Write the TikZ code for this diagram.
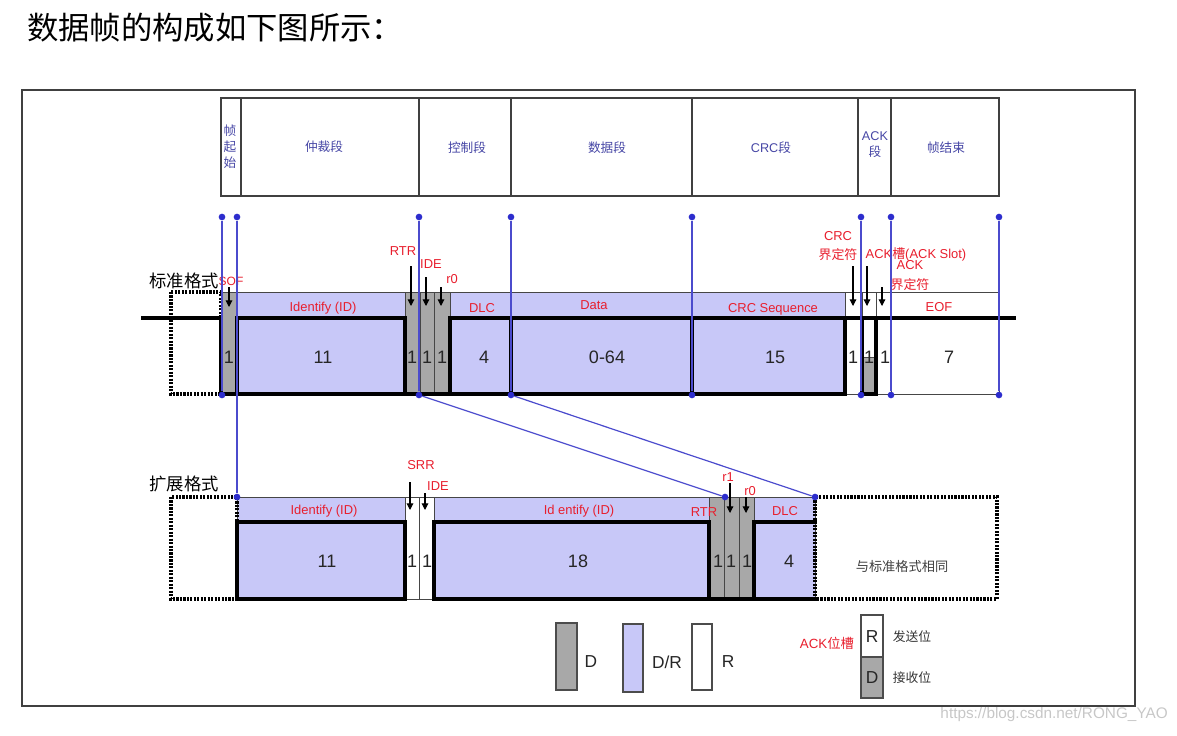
\documentclass[tikz,border=0pt]{standalone}
\usepackage{fontspec}
\setmainfont{Liberation Sans}
\newfontfamily\cjk{Noto Sans CJK SC}
\usetikzlibrary{fit,arrows.meta}
\definecolor{bfill}{RGB}{200,200,248}
\definecolor{gfill}{RGB}{168,168,168}
\definecolor{bline}{RGB}{75,75,205}
\definecolor{bdotc}{RGB}{45,45,205}
\definecolor{rtxt}{RGB}{232,30,45}
\definecolor{htxt}{RGB}{70,70,165}
\definecolor{edge}{RGB}{70,70,70}
\begin{document}
\begin{tikzpicture}[x=0.75pt,y=-0.75pt,
  cell/.style={draw=edge, line width=0.6pt, inner sep=0pt},
  hdr/.style={draw=black!75, line width=0.9pt, inner sep=0pt},
  htx/.style={font=\fontsize{9.5}{12}\selectfont, text=htxt, align=center, inner sep=0pt},
  dfill/.style={cell, fill=gfill},
  drfill/.style={cell, fill=bfill},
  rfill/.style={cell, fill=white},
  wave/.style={line width=2.4pt, line cap=rect, draw=black},
  dotbox/.style={draw=black, line width=2.6pt, dash pattern=on 1.6pt off 1pt},
  bl/.style={draw=bline, line width=0.9pt},
  bdot/.style={circle, fill=bdotc, inner sep=0pt, minimum size=5pt},
  lab/.style={font=\fontsize{9.7}{11}\selectfont, text=rtxt, inner sep=0pt, align=center},
  num/.style={font=\fontsize{13.5}{14}\selectfont, text=black!85, inner sep=0pt},
  arr/.style={-{Triangle[length=5pt,width=5pt]}, line width=0.8pt, draw=black},
  lgbox/.style={draw=black!70, line width=0.9pt, inner sep=0pt},
  cjkt/.style={font=\cjk\fontsize{9.6}{11}\selectfont, text=black!80, inner sep=0pt}
]
\useasboundingbox (0,0) rectangle (1177,735);

% title and watermark
\node[anchor=west, inner sep=0pt, font=\cjk\fontsize{23.5}{24}\selectfont] (title) at (27,28) {数据帧的构成如下图所示：};
\node[anchor=east, inner sep=0pt, text=black!22, font=\fontsize{11.5}{12}\selectfont] (wm) at (1168,715) {https://blog.csdn.net/RONG\_YAO};

% outer frame
\node[draw=black!75, line width=1pt, inner sep=0pt, fit={(22,90)(1135,706)}] (frame) {};

% header row
\node[hdr, fit={(221,98)(241,196)}] (hSOF) {};
\node[hdr, fit={(241,98)(419,196)}] (hArb) {};
\node[hdr, fit={(419,98)(511,196)}] (hCtl) {};
\node[hdr, fit={(511,98)(692,196)}] (hDat) {};
\node[hdr, fit={(692,98)(858,196)}] (hCRC) {};
\node[hdr, fit={(858,98)(891,196)}] (hACK) {};
\node[hdr, fit={(891,98)(999,196)}] (hEOF) {};
\node[htx, font=\cjk\fontsize{9.5}{12}\selectfont] (xSOF) at (230,147) {帧\\起\\始};
\node[htx] (xArb) at (324,147) {\cjk 仲裁段};
\node[htx] (xCtl) at (467,148) {\cjk 控制段};
\node[htx] (xDat) at (607,148) {\cjk 数据段};
\node[htx] (xCRC) at (771,148) {CRC{\cjk 段}};
\node[htx] (xACK) at (875,145) {ACK\\{\cjk 段}};
\node[htx] (xEOF) at (946,148) {\cjk 帧结束};

% ---------- standard format ----------
\node[anchor=east, inner sep=0pt, font=\cjk\fontsize{13}{14}\selectfont] (stdname) at (219,281) {标准格式};
\node[dfill, fit={(221,292)(237,394)}] (sSOF) {};
\node[drfill, fit={(237,292)(405,394)}] (sId) {};
\node[dfill, fit={(405,292)(420,394)}] (sRTR) {};
\node[dfill, fit={(420,292)(434,394)}] (sIDE) {};
\node[dfill, fit={(434,292)(450,394)}] (sR0) {};
\node[drfill, fit={(450,292)(511,394)}] (sDLC) {};
\node[drfill, fit={(511,292)(692,394)}] (sData) {};
\node[drfill, fit={(692,292)(845,394)}] (sCRC) {};
\node[rfill, fit={(845,292)(862,394)}] (sCD) {};
\node[rfill, fit={(862,292)(876,394)}] (sAS) {};
\node[dfill, fit={(862,357)(876,394)}] (sASd) {};
\node[rfill, fit={(876,292)(891,394)}] (sAD) {};
\node[rfill, fit={(891,292)(999,394)}] (sEOF) {};
\draw[dotbox] (171,292) rectangle (221,394);

\draw[wave] (143,318) -- (221,318) -- (221,394) -- (845,394);
\draw[wave] (237,394) -- (237,318) -- (405,318) -- (405,394);
\draw[wave] (450,394) -- (450,318) -- (1014,318);
\draw[wave] (511,318) -- (511,394);
\draw[wave] (692,318) -- (692,394);
\draw[wave] (845,318) -- (845,394);
\draw[wave] (862,318) -- (862,394) -- (876,394) -- (876,318);

\node[num] (nSOF) at (229,357) {1};
\node[num] (nId) at (323,357) {11};
\node[num] (nRTR) at (412,357) {1};
\node[num] (nIDE) at (427,357) {1};
\node[num] (nR0) at (442,357) {1};
\node[num] (nDLC) at (484,357) {4};
\node[num] (nData) at (607,357) {0-64};
\node[num] (nCRC) at (775,357) {15};
\node[num] (nCD) at (853,357) {1};
\node[num] (nAS) at (869,357) {1};
\node[num] (nAD) at (885,357) {1};
\node[num] (nEOF) at (949,357) {7};

\node[lab] (lId) at (323,308) {Identify (ID)};
\node[lab] (lDLC) at (482,308) {DLC};
\node[lab] (lData) at (594,305) {Data};
\node[lab] (lCRC) at (773,309) {CRC Sequence};
\node[lab] (lEOF) at (939,307) {EOF};

\node[lab, font=\fontsize{9}{10}\selectfont] (tSOF) at (231,281) {SOF};
\node[lab] (tRTR) at (403,251) {RTR};
\node[lab] (tIDE) at (431,264) {IDE};
\node[lab] (tR0) at (452,279) {r0};
\node[lab, font=\fontsize{9.7}{14}\selectfont] (tCD) at (838,246) {CRC\\{\cjk 界定符}};
\node[lab] (tAS) at (916,254) {ACK{\cjk 槽}(ACK Slot)};
\node[lab, font=\fontsize{9.7}{15}\selectfont] (tAD) at (910,276) {ACK\\{\cjk 界定符}};

\coordinate (aSOF1) at (229,287); \coordinate (aSOF2) at (229,307);
\coordinate (aRTR1) at (411,266); \coordinate (aRTR2) at (411,306);
\coordinate (aIDE1) at (426,277); \coordinate (aIDE2) at (426,306);
\coordinate (aR01) at (441,287);  \coordinate (aR02) at (441,306);
\coordinate (aCD1) at (853,266);  \coordinate (aCD2) at (853,306);
\coordinate (aAS1) at (867,266);  \coordinate (aAS2) at (867,306);
\coordinate (aAD1) at (882,287);  \coordinate (aAD2) at (882,306);
\draw[arr] (aSOF1) -- (aSOF2);
\draw[arr] (aRTR1) -- (aRTR2);
\draw[arr] (aIDE1) -- (aIDE2);
\draw[arr] (aR01) -- (aR02);
\draw[arr] (aCD1) -- (aCD2);
\draw[arr] (aAS1) -- (aAS2);
\draw[arr] (aAD1) -- (aAD2);

% ---------- extended format ----------
\node[anchor=east, inner sep=0pt, font=\cjk\fontsize{13}{14}\selectfont] (extname) at (219,484) {扩展格式};
\node[drfill, fit={(237,497)(405,599)}] (eId) {};
\node[rfill, fit={(405,497)(419,599)}] (eSRR) {};
\node[rfill, fit={(419,497)(434,599)}] (eIDE) {};
\node[drfill, fit={(434,497)(709,599)}] (eIdx) {};
\node[dfill, fit={(709,497)(724,599)}] (eRTR) {};
\node[dfill, fit={(724,497)(739,599)}] (eR1) {};
\node[dfill, fit={(739,497)(754,599)}] (eR0) {};
\node[drfill, fit={(754,497)(815,599)}] (eDLC) {};
\draw[dotbox] (171,497) rectangle (237,599);
\draw[dotbox] (815,497) rectangle (997,599);

\draw[wave] (237,599) -- (237,522) -- (405,522) -- (405,599) -- cycle;
\draw[wave] (434,599) -- (434,522) -- (709,522) -- (709,599);
\draw[wave] (434,599) -- (815,599);
\draw[wave] (754,599) -- (754,522) -- (815,522);

\node[num] (enId) at (327,561) {11};
\node[num] (enSRR) at (412,561) {1};
\node[num] (enIDE) at (427,561) {1};
\node[num] (enIdx) at (578,561) {18};
\node[num] (enRTR) at (718,561) {1};
\node[num] (enR1) at (731,561) {1};
\node[num] (enR0) at (747,561) {1};
\node[num] (enDLC) at (789,561) {4};
\node[cjkt, font=\cjk\fontsize{9.9}{11}\selectfont, text=black!75] (same) at (902,566) {与标准格式相同};

\node[lab] (elId) at (324,511) {Identify (ID)};
\node[lab] (elIdx) at (579,511) {Id entify (ID)};
\node[lab] (elRTR) at (704,512) {RTR};
\node[lab] (elDLC) at (785,511) {DLC};
\node[lab] (etSRR) at (421,465) {SRR};
\node[lab] (etIDE) at (438,486) {IDE};
\node[lab] (etR1) at (728,477) {r1};
\node[lab] (etR0) at (750,491) {r0};

\coordinate (bSRR1) at (410,482); \coordinate (bSRR2) at (410,510);
\coordinate (bIDE1) at (425,493); \coordinate (bIDE2) at (425,510);
\coordinate (bR11) at (730,483);  \coordinate (bR12) at (730,513);
\coordinate (bR01) at (746,497);  \coordinate (bR02) at (746,513);
\draw[arr] (bSRR1) -- (bSRR2);
\draw[arr] (bIDE1) -- (bIDE2);
\draw[arr] (bR11) -- (bR12);
\draw[arr] (bR01) -- (bR02);

% ---------- blue guide lines ----------
\node[bdot] (t1) at (222,217) {};
\node[bdot] (t2) at (237,217) {};
\node[bdot] (t3) at (419,217) {};
\node[bdot] (t4) at (511,217) {};
\node[bdot] (t5) at (692,217) {};
\node[bdot] (t6) at (861,217) {};
\node[bdot] (t7) at (891,217) {};
\node[bdot] (t8) at (999,217) {};
\node[bdot] (b1) at (222,395) {};
\node[bdot] (b3) at (419,395) {};
\node[bdot] (b4) at (511,395) {};
\node[bdot] (b5) at (692,395) {};
\node[bdot] (b6) at (861,395) {};
\node[bdot] (b7) at (891,395) {};
\node[bdot] (b8) at (999,395) {};
\node[bdot] (e2) at (237,497) {};
\node[bdot] (e3) at (725,497) {};
\node[bdot] (e4) at (815,497) {};
\draw[bl] (t1) -- (b1);
\draw[bl] (t2) -- (e2);
\draw[bl] (t3) -- (b3);
\draw[bl] (t4) -- (b4);
\draw[bl] (t5) -- (b5);
\draw[bl] (t6) -- (b6);
\draw[bl] (t7) -- (b7);
\draw[bl] (t8) -- (b8);
\draw[bl] (b3) -- (e3);
\draw[bl] (b4) -- (e4);

% ---------- legend ----------
\node[lgbox, fill=gfill, fit={(556,623)(577,690)}] (lgD) {};
\node[lgbox, fill=bfill, fit={(623,624)(643,692)}] (lgDR) {};
\node[lgbox, fill=white, fit={(692,624)(712,690)}] (lgR) {};
\node[num, font=\fontsize{13}{14}\selectfont] (lgDt) at (591,662) {D};
\node[num, font=\fontsize{13}{14}\selectfont] (lgDRt) at (667,662) {D/R};
\node[num, font=\fontsize{13}{14}\selectfont] (lgRt) at (728,662) {R};
\node[lab, font=\fontsize{10}{11}\selectfont] (lgACK) at (827,643) {ACK{\cjk 位槽}};
\node[lgbox, fill=white, fit={(861,615)(883,657)}] (lgAR) {};
\node[lgbox, fill=gfill, fit={(861,657)(883,698)}] (lgAD) {};
\node[num, font=\fontsize{13}{14}\selectfont] (lgARt) at (872,637) {R};
\node[num, font=\fontsize{13}{14}\selectfont] (lgADt) at (872,678) {D};
\node[cjkt] (lgSend) at (912,637) {发送位};
\node[cjkt] (lgRecv) at (912,678) {接收位};
\end{tikzpicture}
\end{document}
